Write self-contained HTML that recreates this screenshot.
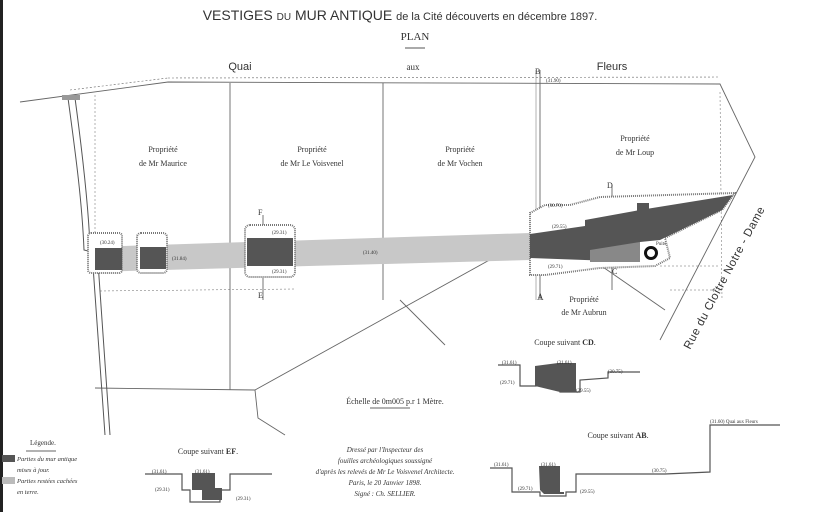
<!DOCTYPE html>
<html><head><meta charset="utf-8"><style>
html,body{margin:0;padding:0;background:#fff;}
svg{display:block;}
text{font-family:"Liberation Serif",serif;fill:#333;}
.s{font-family:"Liberation Sans",sans-serif;}
</style></head><body>
<svg width="820" height="512" viewBox="0 0 820 512" xmlns="http://www.w3.org/2000/svg">
<rect x="0" y="0" width="820" height="512" fill="#fff"/>
<rect x="0" y="0" width="3" height="512" fill="#222"/>
<!-- title -->
<text x="400" y="20" font-size="14" text-anchor="middle" class="s" fill="#555">VESTIGES <tspan font-size="10">DU</tspan> MUR ANTIQUE <tspan font-size="11">de la Cité découverts en décembre 1897.</tspan></text>
<text x="415" y="40" font-size="11" text-anchor="middle" fill="#555">PLAN</text>
<line x1="405" y1="48" x2="425" y2="48" stroke="#555" stroke-width="1"/>
<text x="240" y="70" font-size="11" text-anchor="middle" class="s" fill="#555">Quai</text>
<text x="413" y="70" font-size="9" text-anchor="middle">aux</text>
<text x="612" y="70" font-size="11" text-anchor="middle" class="s" fill="#555">Fleurs</text>
<!-- top boundary -->
<g stroke="#666" fill="none" stroke-width="0.9">
<polyline points="20,102 168,82 720,84 755,157 660,340"/>
<line x1="70" y1="90" x2="168" y2="78" stroke-dasharray="2,2" stroke-width="0.6"/>
<line x1="168" y1="78" x2="720" y2="77" stroke-dasharray="2,2" stroke-width="0.6"/>
<line x1="230" y1="83" x2="230" y2="390"/>
<line x1="383" y1="83" x2="383" y2="300"/>
<line x1="540" y1="70" x2="540" y2="300"/>
<line x1="536" y1="70" x2="536" y2="300" stroke-width="0.5"/>
<line x1="95" y1="95" x2="95" y2="233" stroke-dasharray="2,2" stroke-width="0.5"/>
<line x1="95" y1="388" x2="255" y2="390"/>
<line x1="255" y1="390" x2="540" y2="232"/>
<polyline points="255,390 258,418 285,435"/>
<line x1="400" y1="300" x2="445" y2="345"/>
<line x1="600" y1="265" x2="665" y2="310"/>
<line x1="720" y1="92" x2="722" y2="300" stroke-dasharray="2,2" stroke-width="0.5"/>
<line x1="670" y1="290" x2="720" y2="290" stroke-dasharray="2,2" stroke-width="0.5"/>
<line x1="660" y1="266" x2="720" y2="266" stroke-dasharray="2,2" stroke-width="0.5"/>
<line x1="100" y1="291" x2="295" y2="289" stroke-dasharray="2,2" stroke-width="0.5"/>
<line x1="263" y1="215" x2="263" y2="300"/>
<line x1="612" y1="185" x2="612" y2="290"/>
</g>
<!-- left wall -->
<g stroke="#555" fill="none" stroke-width="1">
<path d="M68,98 C75,150 82,200 84,250 L92,252 L105,435"/>
<path d="M75,98 C82,150 88,200 90,246 L97,248 L110,435"/>
</g>
<rect x="62" y="95" width="18" height="5" fill="#999"/>
<polygon points="92,247 530,233 530,260 92,272" fill="#c8c8c8"/>
<g fill="#fff" stroke="#777" stroke-width="2" stroke-dasharray="1,1">
<rect x="88" y="233" width="34" height="40" rx="3"/>
<rect x="137" y="233" width="30" height="40" rx="4"/>
<rect x="245" y="225" width="50" height="52" rx="5"/>
<path d="M530,213 L545,205 L570,205 L600,197 L735,193 L722,210 L665,238 L670,258 L655,266 L600,268 L545,275 L530,275 Z"/>
</g>
<g fill="#555">
<rect x="95" y="248" width="27" height="22"/>
<rect x="140" y="247" width="26" height="22"/>
<rect x="247" y="238" width="46" height="28"/>
<polygon points="530,234 585,226 585,220 640,210 733,195 722,210 660,240 640,242 640,262 530,258"/>
<rect x="637" y="203" width="12" height="10"/>
</g>
<polygon points="590,250 640,242 640,262 590,262" fill="#888"/>
<circle cx="651" cy="253" r="5.5" fill="none" stroke="#111" stroke-width="3"/>
<g font-size="8" text-anchor="middle">
<text x="163" y="152">Propriété</text><text x="163" y="166">de Mr Maurice</text>
<text x="312" y="152">Propriété</text><text x="312" y="166">de Mr Le Voisvenel</text>
<text x="460" y="152">Propriété</text><text x="460" y="166">de Mr Vochen</text>
<text x="635" y="141">Propriété</text><text x="635" y="155">de Mr Loup</text>
<text x="584" y="302">Propriété</text><text x="584" y="315">de Mr Aubrun</text>
</g>
<g font-size="5" fill="#444">
<text x="100" y="244">(30.24)</text><text x="172" y="260">(31.84)</text>
<text x="272" y="234">(29.31)</text><text x="272" y="273">(29.31)</text>
<text x="363" y="254">(31.40)</text><text x="548" y="207">(30.70)</text>
<text x="552" y="228">(29.55)</text><text x="548" y="268">(29.71)</text>
<text x="546" y="82">(31.90)</text><text x="656" y="245">Puits</text>
</g>
<g font-size="8" fill="#333">
<text x="537" y="300" font-size="9">A</text><text x="535" y="74" font-size="8">B</text>
<text x="612" y="274" font-size="8">C</text><text x="607" y="188" font-size="8">D</text>
<text x="258" y="215">F</text><text x="258" y="298">E</text>
</g>
<text x="0" y="0" font-size="11.5" class="s" fill="#555" letter-spacing="0.5" transform="translate(690,350) rotate(-62)">Rue  du  Cloître  Notre - Dame</text>
<!-- CD section -->
<text x="565" y="345" font-size="8" text-anchor="middle">Coupe suivant <tspan font-weight="bold">CD</tspan>.</text>
<polyline points="498,365 520,365 520,386 536,386 536,375 560,370 560,392 580,392 580,380 608,378 608,372 640,372" fill="none" stroke="#555" stroke-width="1.2"/>
<polygon points="535,366 558,363 576,363 576,392 560,392 535,386" fill="#555"/>
<g font-size="5"><text x="502" y="364">(31.61)</text><text x="557" y="364">(31.61)</text><text x="608" y="373">(30.75)</text><text x="500" y="384">(29.71)</text><text x="576" y="392">(29.55)</text></g>
<text x="395" y="404" font-size="8" text-anchor="middle">Échelle de 0m005 p.r 1 Mètre.</text>
<line x1="370" y1="408" x2="410" y2="408" stroke="#666"/>
<g font-size="7" font-style="italic" text-anchor="middle">
<text x="385" y="452">Dressé par l'Inspecteur des</text>
<text x="385" y="463">fouilles archéologiques soussigné</text>
<text x="385" y="474">d'après les relevés de Mr Le Voisvenel Architecte.</text>
<text x="385" y="485">Paris, le 20 Janvier 1898.</text>
<text x="385" y="496">Signé : Ch. SELLIER.</text>
</g>
<text x="30" y="445" font-size="7">Légende.</text>
<line x1="26" y1="451" x2="56" y2="451" stroke="#666"/>
<rect x="2" y="455" width="13" height="7" fill="#555"/>
<rect x="2" y="477" width="13" height="7" fill="#bbb"/>
<g font-size="6.5" font-style="italic"><text x="17" y="461">Parties du mur antique</text><text x="17" y="472">mises à jour.</text><text x="17" y="483">Parties restées cachées</text><text x="17" y="494">en terre.</text></g>
<text x="208" y="454" font-size="8" text-anchor="middle">Coupe suivant <tspan font-weight="bold">EF</tspan>.</text>
<polyline points="145,474 182,474 182,490 190,490 190,502 220,502 220,490 230,490 230,474 272,474" fill="none" stroke="#555" stroke-width="1.2"/>
<polygon points="192,473 215,473 215,488 222,488 222,500 202,500 202,490 192,490" fill="#555"/>
<g font-size="5"><text x="152" y="473">(31.61)</text><text x="195" y="473">(31.61)</text><text x="155" y="491">(29.31)</text><text x="236" y="500">(29.31)</text></g>
<text x="618" y="438" font-size="8" text-anchor="middle">Coupe suivant <tspan font-weight="bold">AB</tspan>.</text>
<polyline points="490,468 512,468 512,492 540,492 540,496 566,496 566,492 576,492 576,474 665,474 710,472 710,425 780,425" fill="none" stroke="#555" stroke-width="1.2"/>
<polygon points="539,466 560,466 560,492 564,492 564,494 544,494 540,490" fill="#555"/>
<g font-size="5"><text x="494" y="466">(31.61)</text><text x="541" y="466">(31.61)</text><text x="652" y="472">(30.75)</text><text x="518" y="490">(29.71)</text><text x="580" y="493">(29.55)</text><text x="710" y="423">(31.60) Quai aux Fleurs</text></g>
</svg>
</body></html>
